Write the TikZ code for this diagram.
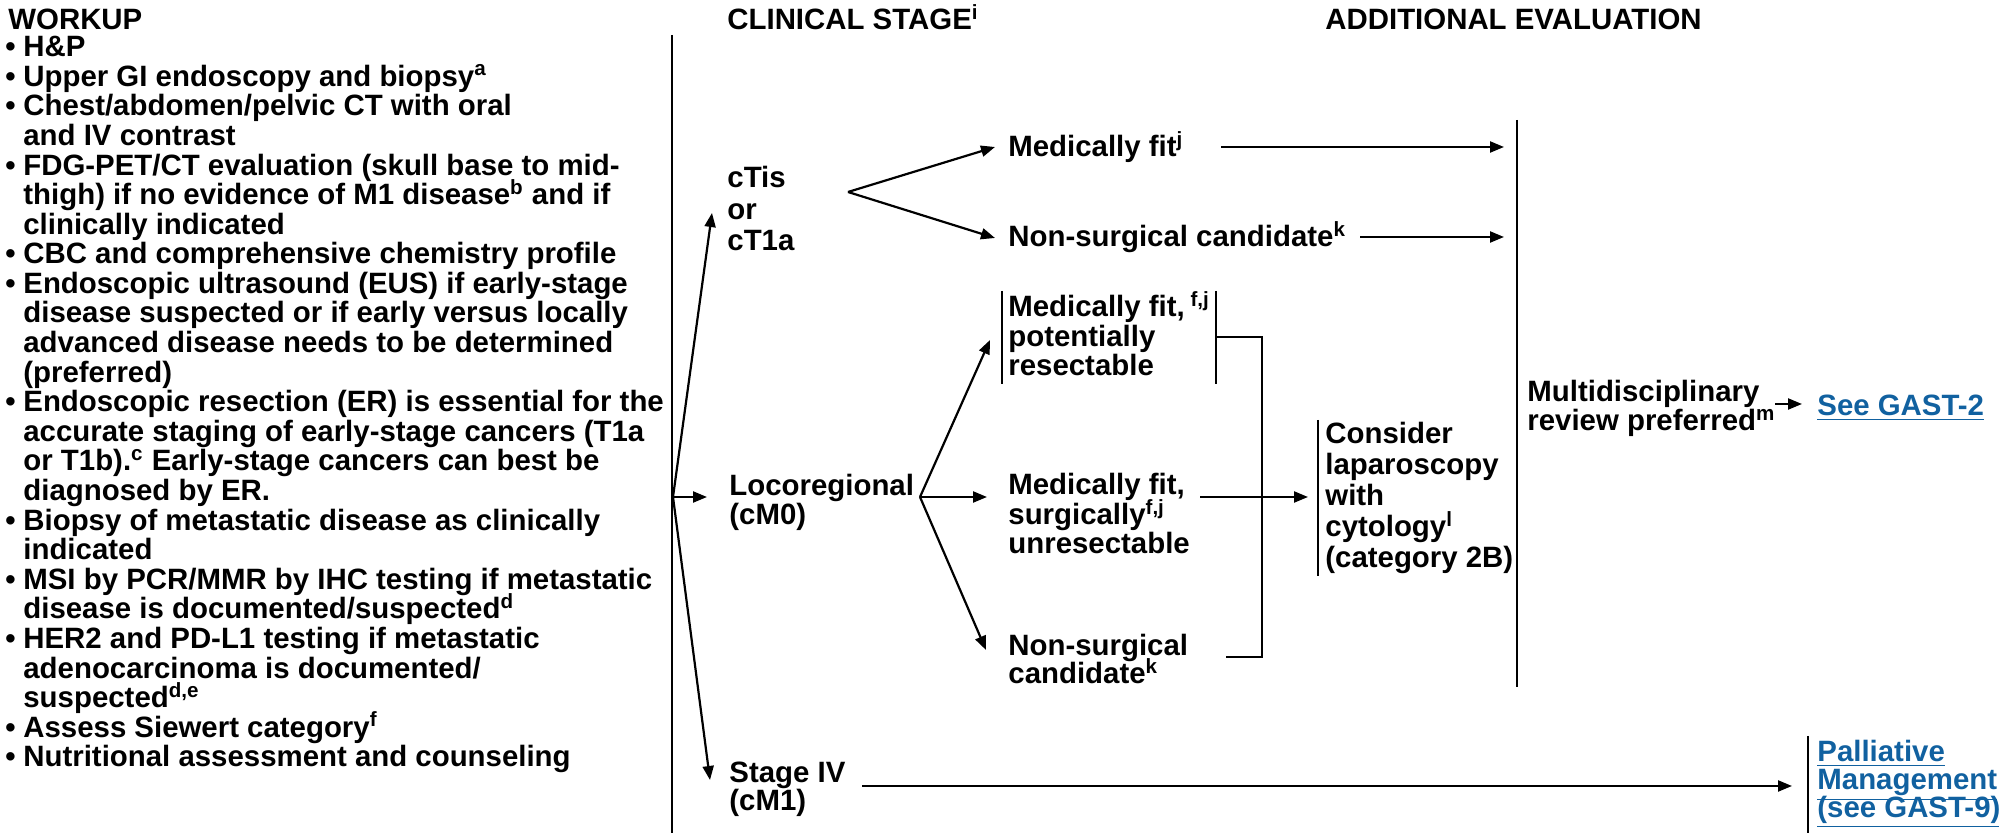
\documentclass[tikz,border=0pt]{standalone}
\usepackage{fontspec}
\setmainfont{Liberation Sans}
\usetikzlibrary{arrows.meta}
\definecolor{linkblue}{RGB}{17,97,160}
\newcommand\bl{\makebox[9pt][l]{•}}
\newcommand\ind{\hspace*{9pt}}
\begin{document}
\begin{tikzpicture}[x=0.5pt,y=-0.5pt,
  tx/.style={font={\fontsize{14.7}{#1}\selectfont\bfseries\lineskiplimit=-30pt\relax}, align=left, inner sep=0pt, anchor=base west},
  tx/.default=14pt,
  ln/.style={line width=1.1pt},
  arr/.style={line width=1.1pt, -{Triangle[length=7pt,width=5.5pt]}},
  link/.style={text=linkblue}]
\useasboundingbox (0,0) rectangle (1999,833);

% headers
\node[tx] (hw) at (8,30) {WORKUP};
\node[tx] (hc) at (727,30) {CLINICAL STAGE\textsuperscript{i}};
\node[tx] (ha) at (1325,30) {ADDITIONAL EVALUATION};

% workup list (anchor = baseline of last line)
\node[tx=14.8pt] (wk) at (5,767) {\bl H\&P\\
\bl Upper GI endoscopy and biopsy\textsuperscript{a}\\
\bl Chest/abdomen/pelvic CT with oral\\
\ind and IV contrast\\
\bl FDG-PET/CT evaluation (skull base to mid-\\
\ind thigh) if no evidence of M1 disease\textsuperscript{b} and if\\
\ind clinically indicated\\
\bl CBC and comprehensive chemistry profile\\
\bl Endoscopic ultrasound (EUS) if early-stage\\
\ind disease suspected or if early versus locally\\
\ind advanced disease needs to be determined\\
\ind (preferred)\\
\bl Endoscopic resection (ER) is essential for the\\
\ind accurate staging of early-stage cancers (T1a\\
\ind or T1b).\textsuperscript{c} Early-stage cancers can best be\\
\ind diagnosed by ER.\\
\bl Biopsy of metastatic disease as clinically\\
\ind indicated\\
\bl MSI by PCR/MMR by IHC testing if metastatic\\
\ind disease is documented/suspected\textsuperscript{d}\\
\bl HER2 and PD-L1 testing if metastatic\\
\ind adenocarcinoma is documented/\\
\ind suspected\textsuperscript{d,e}\\
\bl Assess Siewert category\textsuperscript{f}\\
\bl Nutritional assessment and counseling};

% clinical stage nodes (anchor = baseline of last line)
\node[tx=15.75pt] (ctis) at (727,251) {cTis\\or\\cT1a};
\node[tx=14.75pt] (loco) at (729,525) {Locoregional\\(cM0)};
\node[tx=14pt] (st4) at (729,811) {Stage IV\\(cM1)};

\node[tx] (mf) at (1008,157) {Medically fit\textsuperscript{j}};
\node[tx] (ns) at (1008,247) {Non-surgical candidate\textsuperscript{k}};
\node[tx=14.75pt] (b1) at (1008,376) {Medically fit,\textsuperscript{ f,j}\\potentially\\resectable};
\node[tx=14.75pt] (b2) at (1008,554) {Medically fit,\\surgically\textsuperscript{f,j}\\unresectable};
\node[tx=14pt] (b3) at (1008,684) {Non-surgical\\candidate\textsuperscript{k}};
\node[tx=15.5pt] (cons) at (1325,568) {Consider\\laparoscopy\\with\\cytology\textsuperscript{l}\\(category 2B)};
\node[tx=14.5pt] (md) at (1527,431) {Multidisciplinary\\review preferred\textsuperscript{m}};
\node[tx,link] (g2) at (1817,416) {\underline{See GAST-2}};
\node[tx=14pt,link] (pal) at (1817,818) {\underline{Palliative}\\\underline{Management}\\\underline{(see GAST-9)}};

% coordinates
\coordinate (sepT) at (672,35); \coordinate (sepB) at (672,833);
\coordinate (o1) at (673,497);
\coordinate (toCT) at (712,213); \coordinate (toLR) at (707,497); \coordinate (toS4) at (710,780);
\coordinate (v1) at (848,192); \coordinate (toMF) at (995,147); \coordinate (toNS) at (995,238);
\coordinate (mfR) at (1221,147); \coordinate (mfT) at (1504,147);
\coordinate (nsR) at (1360,237); \coordinate (nsT) at (1504,237);
\coordinate (bigT) at (1517,120); \coordinate (bigB) at (1517,687);
\coordinate (v2) at (920,497); \coordinate (toB1) at (990,340); \coordinate (toB2) at (987,497); \coordinate (toB3) at (986,650);
\coordinate (b1LT) at (1002,291); \coordinate (b1LB) at (1002,384);
\coordinate (b1RT) at (1216,291); \coordinate (b1RB) at (1216,384);
\coordinate (b1R) at (1216,337); \coordinate (jn) at (1262,337); \coordinate (jnB) at (1262,657); \coordinate (b3R) at (1226,657);
\coordinate (b2R) at (1200,497); \coordinate (toCons) at (1308,497);
\coordinate (cbT) at (1318,420); \coordinate (cbB) at (1318,576);
\coordinate (mdR) at (1775,404); \coordinate (toG2) at (1802,404);
\coordinate (s4R) at (862,786); \coordinate (toPal) at (1792,786);
\coordinate (pbT) at (1808,736); \coordinate (pbB) at (1808,833);

% lines
\draw[ln] (sepT) -- (sepB);
\draw[arr] (o1) -- (toCT);
\draw[arr] (o1) -- (toLR);
\draw[arr] (o1) -- (toS4);
\draw[arr] (v1) -- (toMF);
\draw[arr] (v1) -- (toNS);
\draw[arr] (mfR) -- (mfT);
\draw[arr] (nsR) -- (nsT);
\draw[ln] (bigT) -- (bigB);
\draw[arr] (v2) -- (toB1);
\draw[arr] (v2) -- (toB2);
\draw[arr] (v2) -- (toB3);
\draw[ln] (b1LT) -- (b1LB);
\draw[ln] (b1RT) -- (b1RB);
\draw[ln] (b1R) -- (jn) -- (jnB) -- (b3R);
\draw[arr] (b2R) -- (toCons);
\draw[ln] (cbT) -- (cbB);
\draw[arr] (mdR) -- (toG2);
\draw[arr] (s4R) -- (toPal);
\draw[ln] (pbT) -- (pbB);
\end{tikzpicture}
\end{document}
